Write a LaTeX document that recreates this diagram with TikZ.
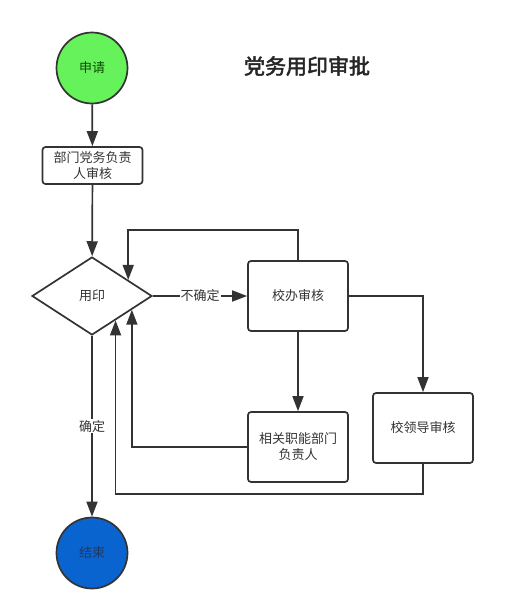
\documentclass[tikz,border=0pt]{standalone}
\usepackage{fontspec}
\newfontfamily\cjk[AutoFakeBold=2.5]{Noto Sans CJK SC}
\usetikzlibrary{arrows.meta,shapes.geometric}
\definecolor{linegray}{HTML}{333333}
\definecolor{startgreen}{HTML}{66F25A}
\definecolor{startdark}{HTML}{0E4A0A}
\definecolor{endblue}{HTML}{0A64D0}
\definecolor{enddark}{HTML}{1C3A66}
\tikzset{
  line/.style={draw=linegray, line width=1.7pt},
  arr/.style={line, -{Triangle[length=15pt,width=11pt]}},
  term/.style={circle, line, minimum size=71pt, inner sep=0pt},
  box/.style={rectangle, rounded corners=3pt, line, minimum width=100pt,
    minimum height=70pt, align=center, text=linegray},
  choice/.style={diamond, line, minimum width=120pt, minimum height=78pt,
    inner sep=0pt, text=linegray},
  tag/.style={fill=white, inner sep=1pt, text=linegray},
}
\begin{document}
\begin{tikzpicture}[x=1pt, y=-1pt, font=\cjk\fontsize{13}{16}\selectfont]
  \useasboundingbox (0,0) rectangle (528,613);
  % nodes
  \node[term, fill=startgreen, text=startdark] (apply) at (92,68) {申请};
  \node[box, minimum height=37pt] (dept) at (92.5,165.5) {部门党务负责\\人审核};
  \node[choice] (seal) at (92,296) {用印};
  \node[box] (office) at (298,296) {校办审核};
  \node[box] (func) at (298,447) {相关职能部门\\负责人};
  \node[box] (leader) at (423,428) {校领导审核};
  \node[term, fill=endblue, text=enddark] (finish) at (92,553) {结束};
  \node[font=\cjk\bfseries\fontsize{21}{25}\selectfont, text=black!85] (title) at (307,66) {党务用印审批};
  % connectors
  \begin{scope}[arr]
    \draw (apply) -- (dept);
    \draw (dept) -- (seal);
    \draw (seal.east) -- node[tag] {不确定} (office.west);
    \draw (seal.south) -- node[tag] {确定} (finish.north);
    \draw (office.north) -- ++(0,-30) -| (seal.24);
    \draw (office.south) -- (func.north);
    \draw (office.east) -| (leader.north);
    \draw (func.west) -| (seal.-19);
    \draw (leader.south) -- ++(0,30) -| (seal.-46);
  \end{scope}
\end{tikzpicture}
\end{document}
